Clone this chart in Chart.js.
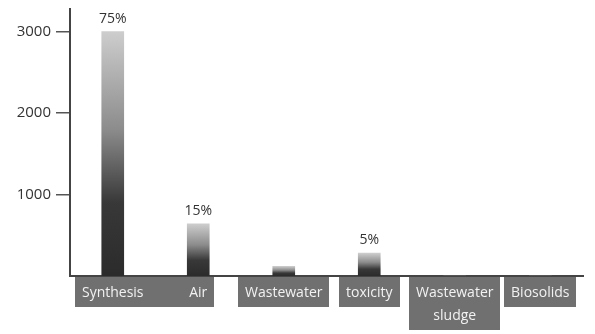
<!DOCTYPE html>
<html lang="en">
<head>
<meta charset="UTF-8">
<title>Share by pathway</title>
<script src="https://cdn.jsdelivr.net/npm/chart.js"></script>
<style>
  html, body { margin: 0; padding: 0; background: #fff; }
</style>
</head>
<body>
<canvas id="pathChart" width="595" height="334"></canvas>
<script>
const categories = ['Synthesis', 'Air', 'Wastewater', 'toxicity', ['Wastewater', 'sludge'], 'Biosolids'];
const amounts = [3000, 640, 120, 280, 0, 0];
const shares = ['75%', '15%', '', '5%', '', ''];
const yTicks = [1000, 2000, 3000];

const FONT = '"Open Sans", "Noto Sans", sans-serif';
const LABEL_SIZE = 14;
const LABEL_LINE = 22.4;
// labels that share one grey box in the original figure
const boxGroups = [[0, 1], [2], [3], [4], [5]];

// vertical gradient per bar: dark at the base, light at the top
function barFill(context) {
  const chart = context.chart;
  const {ctx, chartArea, scales} = chart;
  if (!chartArea || context.type !== 'data') return '#888';
  const top = scales.y.getPixelForValue(context.raw);
  const base = scales.y.getPixelForValue(0);
  if (base - top < 1) return '#888';
  const g = ctx.createLinearGradient(0, base, 0, top);
  g.addColorStop(0, '#2b2b2b');
  g.addColorStop(0.3, '#383838');
  g.addColorStop(0.6, '#8c8c8c');
  g.addColorStop(1, '#cdcdcd');
  return g;
}

// grey boxes behind the category labels (drawn before the scales)
const labelBoxes = {
  id: 'labelBoxes',
  beforeDraw(chart) {
    const {ctx, scales: {x}} = chart;
    ctx.save();
    ctx.font = LABEL_SIZE + 'px ' + FONT;
    ctx.fillStyle = '#707070';
    boxGroups.forEach(group => {
      let left = Infinity, right = -Infinity, rows = 1;
      group.forEach(i => {
        const lines = [].concat(categories[i]);
        const w = Math.max(...lines.map(l => ctx.measureText(l).width)) + 14;
        const cx = x.getPixelForTick(i);
        left = Math.min(left, cx - w / 2);
        right = Math.max(right, cx + w / 2);
        rows = Math.max(rows, lines.length);
      });
      const h = rows * LABEL_LINE + 8;
      ctx.fillRect(Math.round(left), x.top + 1, Math.round(right - left), Math.round(h));
    });
    ctx.restore();
  }
};

const shareLabels = {
  id: 'shareLabels',
  afterDatasetsDraw(chart) {
    const {ctx} = chart;
    const meta = chart.getDatasetMeta(0);
    ctx.save();
    ctx.font = '14px ' + FONT;
    ctx.fillStyle = '#333';
    ctx.textAlign = 'center';
    ctx.textBaseline = 'bottom';
    meta.data.forEach((bar, i) => {
      if (shares[i]) ctx.fillText(shares[i], bar.x, bar.y - 6);
    });
    ctx.restore();
  }
};

new Chart(document.getElementById('pathChart'), {
  type: 'bar',
  data: {
    labels: categories,
    datasets: [{
      data: amounts,
      backgroundColor: barFill,
      barThickness: 22,
      borderWidth: 0
    }]
  },
  options: {
    responsive: false,
    animation: false,
    layout: { padding: { top: 7, right: 12, left: 0, bottom: 0 } },
    plugins: {
      legend: { display: false },
      tooltip: { enabled: false }
    },
    scales: {
      x: {
        grid: { display: false, drawTicks: false },
        border: { color: '#444', width: 2 },
        afterFit(scale) { scale.height = 58; },
        ticks: {
          color: '#f2f2f2',
          font: { family: FONT, size: LABEL_SIZE, lineHeight: LABEL_LINE / LABEL_SIZE },
          padding: 6,
          autoSkip: false,
          maxRotation: 0
        }
      },
      y: {
        min: 0,
        max: 3280,
        afterBuildTicks(scale) { scale.ticks = yTicks.map(v => ({ value: v })); },
        afterFit(scale) { scale.width = 70; },
        grid: { drawOnChartArea: false, drawTicks: true, tickLength: 14, color: '#555', lineWidth: 1.5 },
        border: { color: '#444', width: 2 },
        ticks: {
          color: '#333',
          font: { family: FONT, size: 15, lineHeight: 0.5 },
          padding: 5,
          callback: v => String(v)
        }
      }
    }
  },
  plugins: [labelBoxes, shareLabels]
});
</script>
</body>
</html>
